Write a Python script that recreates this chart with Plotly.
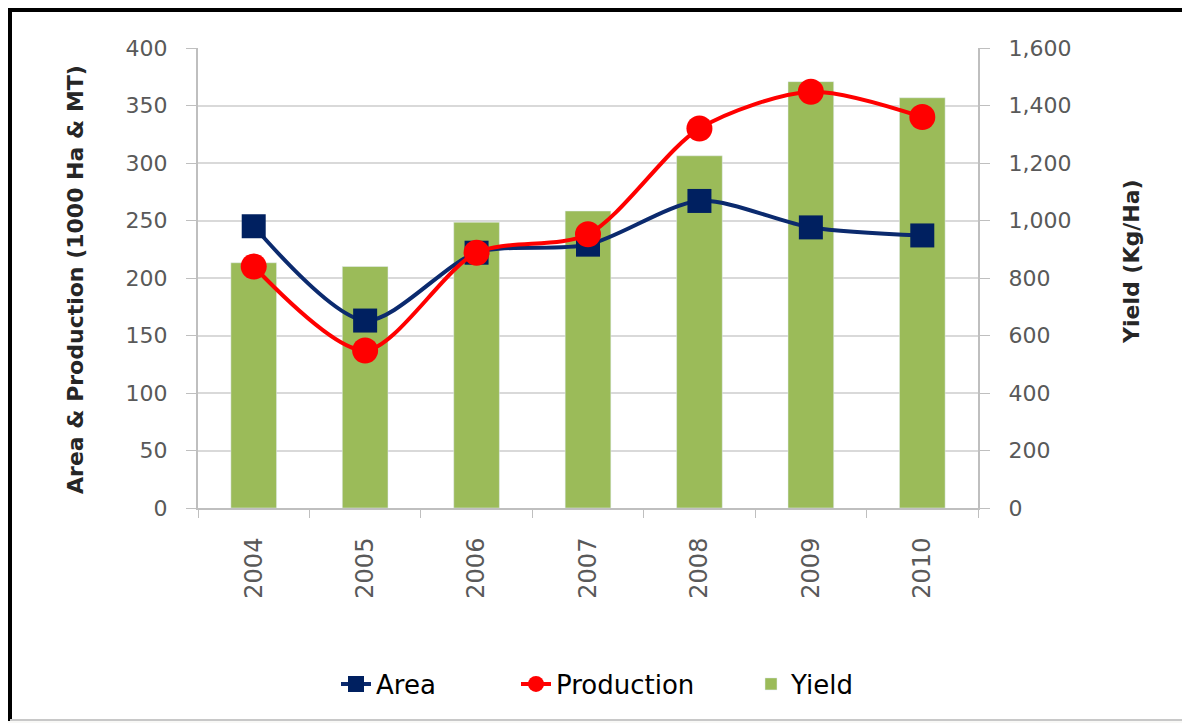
import plotly.graph_objects as go

years = ["2004", "2005", "2006", "2007", "2008", "2009", "2010"]
area = [245, 163, 222, 229, 267, 244, 237]
production = [210, 137, 222, 238, 330, 362, 340]
yield_kg = [853, 840, 994, 1033, 1225, 1483, 1427]

PAGE_W, PAGE_H = 1190, 723
OFF = 8  # page body margin
L, R, T, B = 198, 978, 48, 508  # plot area in page pixels

def px(x):
    return (x - L) / (R - L)

def py(y):
    return (B - y) / (B - T)

fig = go.Figure()
fig.add_trace(go.Bar(x=years, y=yield_kg, name="Yield", marker_color="#9bbb59",
                     width=0.41, yaxis="y", legend="legend3"))
fig.add_trace(go.Scatter(x=years, y=area, name="Area", mode="lines+markers",
                         line=dict(color="#0b2a6e", width=4, shape="spline", smoothing=0.8),
                         marker=dict(symbol="square", size=24, color="#002060"),
                         yaxis="y2", legend="legend"))
fig.add_trace(go.Scatter(x=years, y=production, name="Production", mode="lines+markers",
                         line=dict(color="#ff0000", width=4, shape="spline", smoothing=0.8),
                         marker=dict(symbol="circle", size=26, color="#ff0000"),
                         yaxis="y2", legend="legend2"))

tickfont = dict(family="DejaVu Sans", size=22, color="#595959")
xtickfont = dict(family="DejaVu Sans", size=24, color="#595959")
legfont = dict(family="DejaVu Sans", size=26, color="#000000")

def leg(xpix):
    return dict(orientation="h", x=px(xpix), xanchor="left", y=py(684), yanchor="middle",
                font=legfont, bgcolor="rgba(0,0,0,0)")

fig.update_layout(
    width=PAGE_W - OFF, height=PAGE_H - OFF,
    margin=dict(l=L - OFF, r=PAGE_W - R, t=T - OFF, b=PAGE_H - B),
    paper_bgcolor="#f8f8f6", plot_bgcolor="white",
    showlegend=True,
    legend=leg(336), legend2=leg(516), legend3=leg(751),
    xaxis=dict(type="category", tickangle=-90, tickfont=xtickfont, showgrid=False,
               showline=True, linecolor="#bfbfbf", linewidth=2,
               ticks="outside", tickson="boundaries", ticklen=8, tickcolor="#bfbfbf",
               ticklabelstandoff=18),
    yaxis=dict(side="right", range=[0, 1600], dtick=200, tickformat=",",
               tickfont=tickfont, showgrid=True, gridcolor="#d9d9d9", gridwidth=2,
               showline=True, linecolor="#bfbfbf", linewidth=2,
               ticks="outside", ticklen=10, tickcolor="#bfbfbf", ticklabelstandoff=14,
               zeroline=False),
    yaxis2=dict(side="left", overlaying="y", range=[0, 400], dtick=50,
                tickfont=tickfont, showgrid=False,
                showline=True, linecolor="#bfbfbf", linewidth=2,
                ticks="outside", ticklen=10, tickcolor="#bfbfbf", ticklabelstandoff=14,
                zeroline=False),
    bargap=0.59,
)

fig.add_annotation(text="<b>Area & Production (1000 Ha & MT)</b>", xref="paper", yref="paper",
                   x=px(75), y=py(280), xanchor="center", yanchor="middle",
                   textangle=-90, showarrow=False,
                   font=dict(family="DejaVu Sans", size=22, color="#262626"))
fig.add_annotation(text="<b>Yield (Kg/Ha)</b>", xref="paper", yref="paper",
                   x=px(1131), y=py(262), xanchor="center", yanchor="middle",
                   textangle=-90, showarrow=False,
                   font=dict(family="DejaVu Sans", size=22, color="#262626"))

# frame
fig.add_shape(type="rect", xref="paper", yref="paper", x0=px(10), x1=px(1187), y0=py(719), y1=py(10),
              fillcolor="white", line=dict(width=0), layer="below")
fig.add_shape(type="line", xref="paper", yref="paper", x0=px(8), x1=px(1189), y0=py(10), y1=py(10),
              line=dict(color="#000000", width=4))
fig.add_shape(type="line", xref="paper", yref="paper", x0=px(10), x1=px(10), y0=py(8), y1=py(721),
              line=dict(color="#000000", width=4))
fig.add_shape(type="line", xref="paper", yref="paper", x0=px(1187), x1=px(1187), y0=py(10), y1=py(721),
              line=dict(color="#9a9a9a", width=2))
fig.add_shape(type="line", xref="paper", yref="paper", x0=px(10), x1=px(1187), y0=py(720), y1=py(720),
              line=dict(color="#c8c8c8", width=2))

fig.write_html("out.html")
